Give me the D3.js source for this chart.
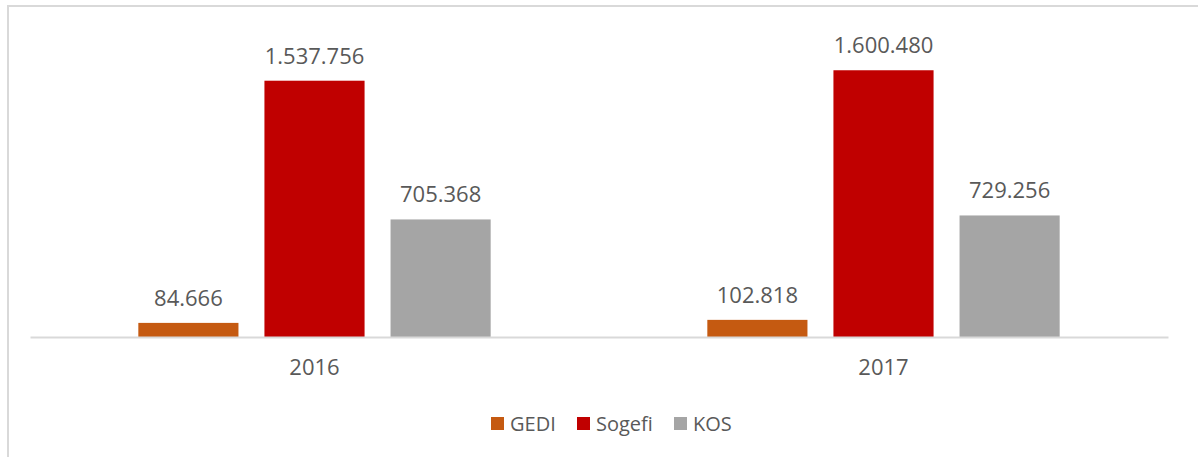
<!DOCTYPE html>
<html>
<head>
<meta charset="utf-8">
<script src="https://cdn.jsdelivr.net/npm/d3@7"></script>
<style>
  body { margin: 0; background: #fff; }
  svg { display: block; font-family: 'Open Sans', sans-serif; }
</style>
</head>
<body>
<svg id="chart"></svg>
<script>
const years = ['2016', '2017'];
const series = ['GEDI', 'Sogefi', 'KOS'];
const gedi = [84666, 102818];
const sogefi = [1537756, 1600480];
const kos = [705368, 729256];
const colors = ['#c55a11', '#c00000', '#a5a5a5'];

const width = 1198, height = 457;
const svg = d3.select('#chart').attr('width', width).attr('height', height);

// chart frame
svg.append('rect')
  .attr('x', 8).attr('y', 6)
  .attr('width', 1200).attr('height', 470)
  .attr('fill', 'none')
  .attr('stroke', '#d9d9d9')
  .attr('stroke-width', 2);

const rows = years.map((y, i) => ({
  year: y,
  values: [gedi[i], sogefi[i], kos[i]]
}));

const x0 = d3.scaleBand().domain(years).range([30, 1168]);
const x1 = d3.scaleBand().domain(series)
  .range([0, x0.bandwidth()])
  .paddingInner(0.206)
  .paddingOuter(0.859);
const y = d3.scaleLinear().domain([0, 1800000]).range([337, 37]);
const color = d3.scaleOrdinal().domain(series).range(colors);

const fmt = v => d3.format(',')(v).replace(/,/g, '.');

const group = svg.selectAll('g.year')
  .data(rows)
  .enter()
  .append('g')
  .attr('class', 'year')
  .attr('transform', d => 'translate(' + x0(d.year) + ',0)');

const bar = group.selectAll('g.bar')
  .data(d => d.values.map((v, i) => ({ key: series[i], value: v })))
  .enter()
  .append('g');

bar.append('rect')
  .attr('x', d => x1(d.key))
  .attr('y', d => y(d.value))
  .attr('width', x1.bandwidth())
  .attr('height', d => y(0) - y(d.value))
  .attr('fill', d => color(d.key));

bar.append('text')
  .attr('x', d => x1(d.key) + x1.bandwidth() / 2)
  .attr('y', d => y(d.value) - 17)
  .attr('text-anchor', 'middle')
  .attr('fill', '#595959')
  .style('font-size', '22px')
  .text(d => fmt(d.value));

// x axis
const xAxis = svg.append('g')
  .attr('transform', 'translate(0,' + y(0) + ')')
  .call(d3.axisBottom(x0).tickSize(0).tickPadding(22));
xAxis.select('.domain').attr('stroke', '#d9d9d9').attr('stroke-width', 2);
xAxis.selectAll('text')
  .attr('fill', '#595959')
  .style('font-size', '22px')
  .style('font-family', "'Open Sans', sans-serif");

// legend
const legendX = [491, 577, 674];
const legend = svg.selectAll('g.legend')
  .data(series)
  .enter()
  .append('g')
  .attr('class', 'legend')
  .attr('transform', (d, i) => 'translate(' + legendX[i] + ',417)');

legend.append('rect')
  .attr('width', 13).attr('height', 13)
  .attr('fill', d => color(d));

legend.append('text')
  .attr('x', 19).attr('y', 14)
  .attr('fill', '#595959')
  .style('font-size', '20px')
  .text(d => d);
</script>
</body>
</html>
